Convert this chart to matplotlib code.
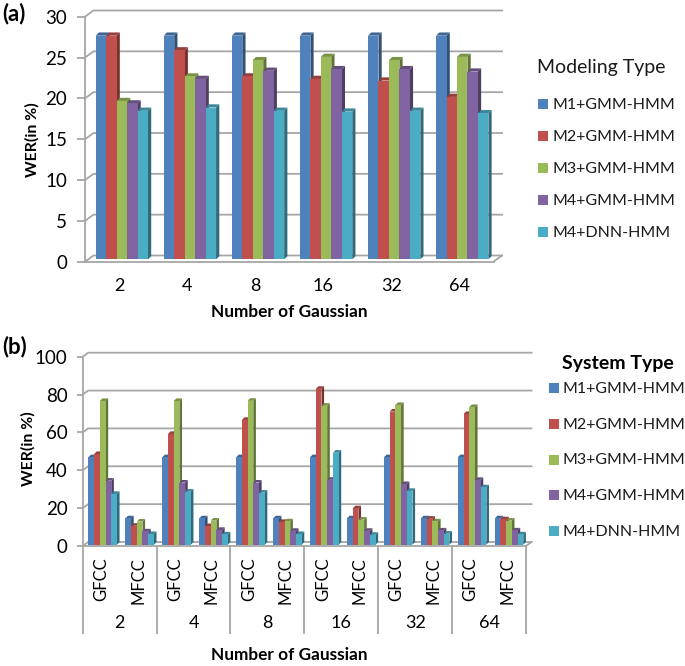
import numpy as np
import matplotlib
matplotlib.use("Agg")
import matplotlib.pyplot as plt
from matplotlib.patches import Rectangle
from matplotlib.colors import to_rgb

plt.rcParams['font.family'] = ['Lato', 'DejaVu Sans']

W, H = 685, 666

series = ['M1+GMM-HMM', 'M2+GMM-HMM', 'M3+GMM-HMM', 'M4+GMM-HMM', 'M4+DNN-HMM']
colors = ['#4F81BD', '#C0504D', '#9BBB59', '#8064A2', '#4BACC6']
gaussians = ['2', '4', '8', '16', '32', '64']
features = ['GFCC', 'MFCC']

# panel (a), one row per series, one value per gaussian count
a_m1 = [27.4, 27.4, 27.4, 27.4, 27.4, 27.4]
a_m2 = [27.4, 25.6, 22.4, 22.1, 21.9, 19.9]
a_m3 = [19.4, 22.4, 24.4, 24.8, 24.4, 24.8]
a_m4 = [19.1, 22.1, 23.1, 23.3, 23.3, 23.0]
a_dnn = [18.2, 18.6, 18.2, 18.1, 18.2, 17.9]

# panel (b), GFCC then MFCC for each gaussian count
b_m1 = [46.2, 13.9, 46.2, 13.9, 46.2, 13.9, 46.2, 13.9, 46.2, 13.9, 46.2, 13.9]
b_m2 = [47.9, 10.0, 58.5, 9.8, 65.9, 12.0, 82.3, 19.2, 70.3, 13.7, 69.0, 13.4]
b_m3 = [75.9, 12.2, 75.9, 12.7, 76.0, 12.3, 73.4, 13.2, 73.8, 12.3, 72.7, 12.7]
b_m4 = [33.8, 7.0, 32.8, 7.8, 32.8, 7.3, 34.3, 7.3, 32.0, 7.5, 34.2, 7.5]
b_dnn = [26.8, 5.6, 28.0, 5.4, 27.5, 5.6, 48.6, 5.2, 28.4, 5.8, 30.3, 5.4]

GRID = '#a6a6a6'


def shade(color, f):
    return tuple(c * f for c in to_rgb(color))


def make_axes(left, right, top, bottom):
    # pixel box of the front plane of the chart
    ax = plt.gcf().add_axes([left / W, 1 - bottom / H, (right - left) / W, (bottom - top) / H])
    ax.patch.set_visible(False)
    for side in ['top', 'right']:
        ax.spines[side].set_visible(False)
    for side in ['left', 'bottom']:
        ax.spines[side].set_color(GRID)
        ax.spines[side].set_linewidth(1.3)
    return ax


def draw_walls(ax, yticks, dx, dy):
    x0, x1 = ax.get_xlim()
    for v in yticks:
        ax.plot([x0, x0 + dx, x1 + dx], [v, v + dy, v + dy], color=GRID, lw=1.3, clip_on=False, zorder=1)
    ax.plot([x1, x1 + dx], [yticks[0], yticks[0] + dy], color=GRID, lw=1.3, clip_on=False, zorder=1)


def draw_bars(ax, pos, values, width, lift, dx, dy, color, z):
    # front faces, then side and top faces for the 3D look
    for x, v in zip(pos, values):
        x0 = x - width / 2
        x1 = x + width / 2
        top = lift + v
        ax.fill([x1, x1 + dx, x1 + dx, x1], [lift, lift + dy, top + dy, top],
                color=shade(color, 0.62), lw=0, clip_on=False, zorder=z)
        ax.fill([x0, x0 + dx, x1 + dx, x1], [top, top + dy, top + dy, top],
                color=shade(color, 0.78), lw=0, clip_on=False, zorder=z)
    ax.bar(pos, values, width, bottom=lift, color=color, lw=0, clip_on=False, zorder=z + 0.5)


def draw_legend(x_box, x_text, ys, size):
    fig = plt.gcf()
    for name, color, y in zip(series, colors, ys):
        fig.add_artist(Rectangle((x_box / W, 1 - (y + 5) / H), 10 / W, 10 / H, color=color, lw=0,
                                 transform=fig.transFigure))
        fig.text(x_text / W, 1 - (y + 1) / H, name, fontsize=size, va='center', color='#1a1a1a')


fig = plt.figure(figsize=(W / 100, H / 100), dpi=100)
fig.patch.set_facecolor('white')

# panel (a)
ax = make_axes(85, 493.5, 16.7, 261.7)
ax.set_xlim(0, 6)
ax.set_ylim(0, 30)
yt = [0, 5, 10, 15, 20, 25, 30]
dx, dy = 3.2 / 68, 3.2 / 8.167
draw_walls(ax, yt, 8.5 / 68, 6.2 / 8.167)
group = np.arange(6) + 0.157
bw = 10.45 / 68
for i, (vals, c) in enumerate(zip([a_m1, a_m2, a_m3, a_m4, a_dnn], colors)):
    draw_bars(ax, group + (i + 0.5) * bw, vals, bw, 0.28, dx, dy, c, 3 + i)
ax.set_yticks(yt)
ax.set_xticks(np.arange(6) + 0.5, labels=gaussians)
ax.tick_params(axis='y', length=6, color=GRID, width=1.3, labelsize=13.5, pad=7)
ax.tick_params(axis='x', length=0, labelsize=13, pad=12)
ax.set_xlabel('Number of Gaussian', fontsize=12.4, fontweight='bold', labelpad=7)
ax.set_ylabel('WER(in %)', fontsize=11.4, fontweight='bold', labelpad=4)
fig.text(2 / W, 1 - 14 / H, '(a)', fontsize=16, fontweight='bold', va='center')
fig.text(537 / W, 1 - 67 / H, 'Modeling Type', fontsize=14, va='center', color='#1a1a1a')
draw_legend(538, 553, [104, 136, 168, 200, 232], 11.5)

# panel (b)
ax = make_axes(82.7, 526, 356.7, 546)
ax.set_xlim(0, 12)
ax.set_ylim(0, 100)
yt = [0, 20, 40, 60, 80, 100]
dx, dy = 2.6 / 36.9, 2.6 / 1.893
draw_walls(ax, yt, 5.5 / 36.9, 4 / 1.893)
sub = np.arange(12) + 0.155
bw = 5.7 / 36.9
for i, (vals, c) in enumerate(zip([b_m1, b_m2, b_m3, b_m4, b_dnn], colors)):
    draw_bars(ax, sub + (i + 0.5) * bw, vals, bw, 0.7, dx, dy, c, 3 + i)
ax.set_yticks(yt)
ax.set_xticks(np.arange(12) + 0.5, labels=features * 6, rotation=90)
ax.tick_params(axis='y', length=4, color=GRID, width=1.3, labelsize=13.5, pad=7)
ax.tick_params(axis='x', length=0, labelsize=12, pad=8)

# second level of the category axis, with long separators
sec = ax.secondary_xaxis('bottom')
sec.spines['bottom'].set_visible(False)
sec.set_xticks(np.arange(0, 13, 2), labels=[])
sec.set_xticks(np.arange(1, 12, 2), labels=gaussians, minor=True)
sec.tick_params(axis='x', which='major', length=63, color=GRID, width=1.3)
sec.tick_params(axis='x', which='minor', length=0, labelsize=13, pad=50)

fig.text(289 / W, 1 - 655 / H, 'Number of Gaussian', fontsize=12.4, fontweight='bold', ha='center', va='center')
fig.text(28 / W, 1 - 449 / H, 'WER(in %)', fontsize=11.4, fontweight='bold', rotation=90, ha='center', va='center')
fig.text(2 / W, 1 - 347 / H, '(b)', fontsize=16, fontweight='bold', va='center')
fig.text(618 / W, 1 - 363 / H, 'System Type', fontsize=14, fontweight='bold', ha='center', va='center')
draw_legend(549, 563, [388, 424, 459.5, 495, 531], 11.5)

fig.savefig('out.png', dpi=100)
